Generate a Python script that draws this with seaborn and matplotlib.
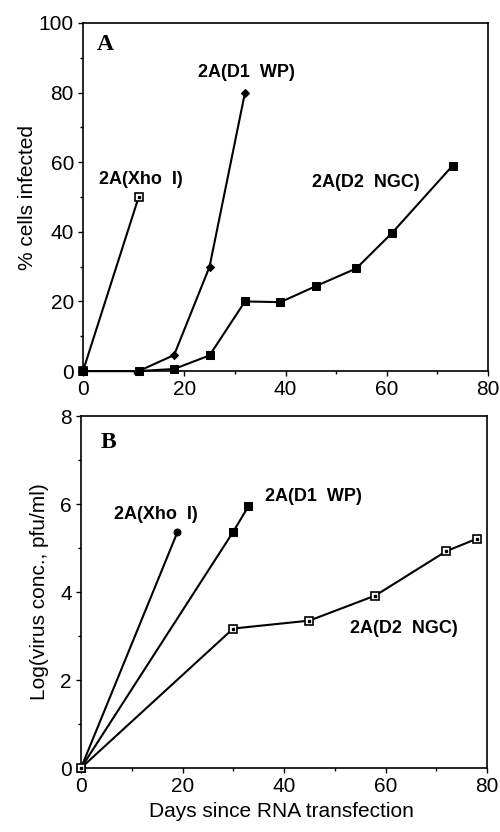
import matplotlib
matplotlib.use("Agg")
import matplotlib.pyplot as plt
import seaborn as sns
from matplotlib.ticker import MultipleLocator

# Panel A: % cells infected
xho_a_days = [0, 11]
xho_a_pct = [0, 50]
d1_a_days = [0, 11, 18, 25, 32]
d1_a_pct = [0, 0, 4.6, 30, 80]
d2_a_days = [0, 11, 18, 25, 32, 39, 46, 54, 61, 73]
d2_a_pct = [0, 0, 0.6, 4.5, 20, 19.8, 24.4, 29.5, 39.6, 59]

# Panel B: log virus concentration
xho_b_days = [0, 19]
xho_b_log = [0, 5.36]
d1_b_days = [0, 30, 33]
d1_b_log = [0, 5.37, 5.95]
d2_b_days = [0, 30, 45, 58, 72, 78]
d2_b_log = [0, 3.17, 3.35, 3.92, 4.93, 5.21]

sns.set_style("ticks")
plt.rcParams['font.family'] = ['Liberation Sans', 'DejaVu Sans']
plt.rcParams['text.color'] = 'black'
plt.rcParams['axes.labelcolor'] = 'black'

fig = plt.figure(figsize=(5, 8.32), dpi=100)
ax1 = fig.add_axes([0.166, 0.554, 0.81, 0.4184])
ax2 = fig.add_axes([0.162, 0.0769, 0.812, 0.4231])

line_kw = dict(color='black', lw=1.5, clip_on=False, zorder=5)


def open_square(ax, x, y):
    sns.lineplot(x=x, y=y, ax=ax, marker='s', markersize=6, mfc='white',
                 mec='black', mew=1.2, **line_kw)
    ax.plot(x, y, ls='none', marker='s', ms=1.5, color='black',
            clip_on=False, zorder=6)


# --- panel A
open_square(ax1, xho_a_days, xho_a_pct)
sns.lineplot(x=d1_a_days, y=d1_a_pct, ax=ax1, marker='D', markersize=4.5,
             mec='black', **line_kw)
sns.lineplot(x=d2_a_days, y=d2_a_pct, ax=ax1, marker='s', markersize=6,
             mec='black', **line_kw)

ax1.set_xlim(0, 80)
ax1.set_ylim(0, 100)
ax1.yaxis.set_major_locator(MultipleLocator(20))
ax1.yaxis.set_minor_locator(MultipleLocator(10))
ax1.set_ylabel("% cells infected", fontsize=15)
ax1.yaxis.set_label_coords(-0.114, 0.5)

lab_kw = dict(fontsize=13, fontweight='bold', ha='center', va='center',
              color='black')
ax1.text(11.5, 55, "2A(Xho  I)", **lab_kw)
ax1.text(32.2, 85.7, "2A(D1  WP)", **lab_kw)
ax1.text(55.8, 54.2, "2A(D2  NGC)", **lab_kw)
ax1.text(2.7, 93.8, "A", fontsize=17, fontweight='bold', ha='left',
         va='center', family=['Liberation Serif', 'DejaVu Serif'])

# --- panel B
sns.lineplot(x=xho_b_days, y=xho_b_log, ax=ax2, marker='o', markersize=5,
             mec='black', **line_kw)
sns.lineplot(x=d1_b_days, y=d1_b_log, ax=ax2, marker='s', markersize=6,
             mec='black', **line_kw)
open_square(ax2, d2_b_days, d2_b_log)

ax2.set_xlim(0, 80)
ax2.set_ylim(0, 8)
ax2.yaxis.set_major_locator(MultipleLocator(2))
ax2.yaxis.set_minor_locator(MultipleLocator(1))
ax2.set_ylabel("Log(virus conc., pfu/ml)", fontsize=15)
ax2.yaxis.set_label_coords(-0.078, 0.5)
ax2.set_xlabel("Days since RNA transfection", fontsize=15)
ax2.xaxis.set_label_coords(0.494, -0.097)

ax2.text(14.8, 5.77, "2A(Xho  I)", **lab_kw)
ax2.text(45.8, 6.16, "2A(D1  WP)", **lab_kw)
ax2.text(63.6, 3.18, "2A(D2  NGC)", **lab_kw)
ax2.text(3.9, 7.39, "B", fontsize=17, fontweight='bold', ha='left',
         va='center', family=['Liberation Serif', 'DejaVu Serif'])

for ax in (ax1, ax2):
    ax.xaxis.set_major_locator(MultipleLocator(20))
    ax.xaxis.set_minor_locator(MultipleLocator(10))
    for s in ax.spines.values():
        s.set_visible(True)
        s.set_linewidth(1.2)
        s.set_color('black')
    ax.tick_params(which='major', direction='out', length=3.5, width=1,
                   labelsize=15, pad=3, colors='black')
    ax.tick_params(which='minor', direction='out', length=2, width=1,
                   colors='black')
    if ax is ax1:
        ax.set_xlabel("")

fig.savefig("out.png", dpi=100)
